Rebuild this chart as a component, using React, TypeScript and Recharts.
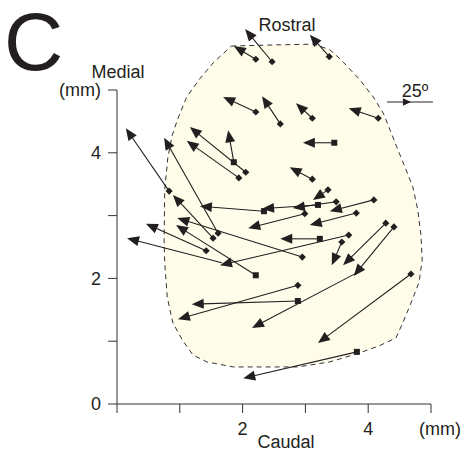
import React from 'react';
import { ScatterChart, Scatter, XAxis, YAxis, ReferenceLine } from 'recharts';

const FONT = '"Liberation Sans", Arial, Helvetica, sans-serif';
const INK = '#231f20';
const AXIS = '#333333';
const REGION_FILL = '#fffdea';

// Movement vectors (mm): start point -> arrow tip
const vecStartX = [2.47, 2.21, 3.38, 2.21, 2.60, 3.11, 4.16, 3.46, 3.11, 0.83, 1.53, 1.61, 1.86, 2.05, 1.94, 3.36, 4.09, 3.81, 2.99, 2.34, 3.20, 3.49, 4.28, 4.41, 3.58, 3.23, 3.69, 2.95, 2.21, 1.42, 1.67, 2.88, 2.88, 3.84, 4.68, 3.82];
const vecStartY = [5.45, 5.49, 5.53, 4.65, 4.46, 4.55, 4.55, 4.16, 3.58, 3.39, 2.64, 2.72, 3.85, 3.69, 3.60, 3.41, 3.25, 3.04, 3.03, 3.07, 3.17, 3.22, 2.88, 2.82, 2.58, 2.63, 2.69, 2.34, 2.05, 2.44, 2.25, 1.64, 1.89, 2.10, 2.07, 0.83];
const vecEndX = [2.04, 1.86, 3.07, 1.69, 2.31, 2.85, 3.69, 2.96, 2.75, 0.14, 0.89, 0.75, 1.77, 1.16, 1.11, 3.12, 3.39, 3.07, 2.09, 1.32, 2.31, 2.80, 3.60, 3.77, 3.42, 2.60, 1.64, 0.96, 0.94, 0.46, 0.16, 1.19, 0.97, 2.15, 3.20, 2.01];
const vecEndY = [5.97, 5.70, 5.88, 4.89, 4.90, 4.79, 4.71, 4.16, 3.77, 4.39, 3.33, 4.24, 4.36, 4.41, 4.19, 3.25, 3.07, 2.85, 2.80, 3.15, 3.11, 3.12, 2.21, 2.04, 2.21, 2.63, 2.21, 2.96, 2.85, 2.87, 2.64, 1.59, 1.35, 1.21, 0.97, 0.41];
// d = diamond, s = square, n = none
const vecMarker = ['d', 'd', 'd', 'd', 'd', 'd', 'd', 's', 'd', 'd', 'd', 'd', 's', 'd', 'd', 'd', 'd', 'd', 'd', 's', 's', 'd', 'd', 'd', 'd', 's', 'd', 'd', 's', 'd', 'n', 's', 'd', 'n', 'd', 's'];

// Dashed region outline (mm)
const outlineX = [1.82, 2.60, 3.14, 3.39, 3.57, 3.87, 4.08, 4.24, 4.35, 4.46, 4.57, 4.71, 4.79, 4.84, 4.86, 4.81, 4.67, 4.55, 4.44, 4.16, 3.82, 3.39, 2.88, 2.28, 1.85, 1.43, 1.21, 1.04, 0.89, 0.80, 0.76, 0.75, 0.76, 0.81, 0.88, 0.96, 1.11, 1.32, 1.53];
const outlineY = [5.70, 5.72, 5.73, 5.64, 5.48, 5.16, 4.89, 4.63, 4.36, 4.08, 3.81, 3.46, 3.09, 2.69, 2.29, 1.94, 1.58, 1.29, 1.05, 0.92, 0.80, 0.67, 0.59, 0.59, 0.59, 0.67, 0.78, 1.02, 1.29, 1.70, 2.25, 2.61, 3.41, 3.93, 4.28, 4.52, 4.89, 5.18, 5.43];

// Axes
const xTicks = [0, 1, 2, 3, 4, 5];
const xTickLabels = ['', '', '2', '', '4', '(mm)'];
const yTicks = [0, 1, 2, 3, 4, 5];
const yTickLabels = ['0', '', '2', '', '4', '(mm)'];

// Angle indicator
const angleLabel = '25º';
const angleY = 4.81;
const angleX0 = 4.30;
const angleX1 = 5.03;

const outlineData = outlineX.map((x, i) => ({ x, y: outlineY[i] }));
const vectors = vecStartX.map((x, i) => [
  { x, y: vecStartY[i], role: 'start', mk: vecMarker[i] },
  { x: vecEndX[i], y: vecEndY[i], role: 'end', mk: 'n' },
]);

function OutlineShape(props: any) {
  const pts = props.points || [];
  if (!pts.length) return <g />;
  const d = pts.map((p: any, i: number) => `${i ? 'L' : 'M'}${p.x},${p.y}`).join(' ') + ' Z';
  return <path d={d} fill={REGION_FILL} stroke={AXIS} strokeWidth={1} strokeDasharray="5 4" />;
}

function ArrowLine(props: any) {
  const pts = props.points || [];
  if (pts.length < 2) return <g />;
  const a = pts[0];
  const b = pts[1];
  const dx = b.x - a.x;
  const dy = b.y - a.y;
  const len = Math.hypot(dx, dy) || 1;
  const ux = dx / len;
  const uy = dy / len;
  const L = 12;
  const W = 5;
  const bx = b.x - ux * L;
  const by = b.y - uy * L;
  const head = `${b.x},${b.y} ${bx - uy * W},${by + ux * W} ${bx + uy * W},${by - ux * W}`;
  return (
    <g>
      <line x1={a.x} y1={a.y} x2={bx + ux * 2} y2={by + uy * 2} stroke={INK} strokeWidth={1.1} />
      <polygon points={head} fill={INK} />
    </g>
  );
}

function StartMarker(props: any) {
  const { cx, cy, payload } = props;
  if (!payload || payload.role !== 'start' || payload.mk === 'n') return <g />;
  if (payload.mk === 's') return <rect x={cx - 3} y={cy - 3} width={6} height={6} fill={INK} />;
  return <polygon points={`${cx},${cy - 3.6} ${cx + 3.6},${cy} ${cx},${cy + 3.6} ${cx - 3.6},${cy}`} fill={INK} />;
}

function XTick(props: any) {
  const { x, y, payload } = props;
  const idx = xTicks.indexOf(payload.value);
  const label = idx >= 0 ? xTickLabels[idx] : '';
  if (!label) return <g />;
  const shift = payload.value === 5 ? 9 : 0;
  return (
    <text x={x + shift} y={y} dy="0.71em" textAnchor="middle" fill={INK} fontSize={18} fontFamily={FONT}>
      {label}
    </text>
  );
}

function AngleShape(props: any) {
  const { x1, y1, x2 } = props;
  const mid = (x1 + x2) / 2 + 1;
  return (
    <g>
      <line x1={x1} y1={y1} x2={x2} y2={y1} stroke={INK} strokeWidth={1.1} />
      <polygon points={`${mid},${y1} ${mid - 8},${y1 - 3.8} ${mid - 8},${y1 + 3.8}`} fill={INK} />
      <text x={mid + 4} y={y1 - 5} textAnchor="middle" fill={INK} fontSize={18} fontFamily={FONT}>
        {angleLabel}
      </text>
    </g>
  );
}

export default function App() {
  return (
    <div style={{ position: 'absolute', left: 0, top: 0, width: 462, height: 459, background: '#fff' }}>
      <ScatterChart width={462} height={459} margin={{ top: 14.64, right: 31, bottom: 25, left: 57 }}>
        <XAxis
          type="number"
          dataKey="x"
          domain={[0, 5]}
          ticks={xTicks}
          interval={0}
          tickSize={9}
          tickMargin={9}
          height={30}
          axisLine={{ stroke: AXIS }}
          tickLine={{ stroke: AXIS }}
          tick={XTick}
        />
        <YAxis
          type="number"
          dataKey="y"
          domain={[0, 6.2]}
          ticks={yTicks}
          interval={0}
          tickSize={9}
          tickMargin={7}
          width={60}
          axisLine={false}
          tickLine={{ stroke: AXIS }}
          tick={{ fill: INK, fontSize: 18, fontFamily: FONT }}
          tickFormatter={(v: number) => {
            const i = yTicks.indexOf(v);
            return i >= 0 ? yTickLabels[i] : '';
          }}
        />
        <Scatter
          data={outlineData}
          line={OutlineShape}
          shape={() => <g />}
          isAnimationActive={false}
        />
        {vectors.map((v, i) => (
          <Scatter
            key={i}
            data={v}
            line={ArrowLine}
            shape={StartMarker}
            isAnimationActive={false}
          />
        ))}
        <ReferenceLine
          segment={[{ x: 0, y: 0 }, { x: 0, y: 5 }]}
          stroke={AXIS}
          strokeWidth={1}
          ifOverflow="visible"
        />
        <ReferenceLine
          segment={[{ x: angleX0, y: angleY }, { x: angleX1, y: angleY }]}
          ifOverflow="visible"
          shape={AngleShape}
        />
      </ScatterChart>
      <svg
        width={462}
        height={459}
        style={{ position: 'absolute', left: 0, top: 0, pointerEvents: 'none' }}
      >
        <text x={4} y={70} fontSize={82} fill={INK} fontFamily={FONT}>C</text>
        <text x={118} y={78} fontSize={18} fill={INK} fontFamily={FONT} textAnchor="middle">Medial</text>
        <text x={287} y={31} fontSize={18} fill={INK} fontFamily={FONT} textAnchor="middle">Rostral</text>
        <text x={286} y={448} fontSize={18} fill={INK} fontFamily={FONT} textAnchor="middle">Caudal</text>
      </svg>
    </div>
  );
}
